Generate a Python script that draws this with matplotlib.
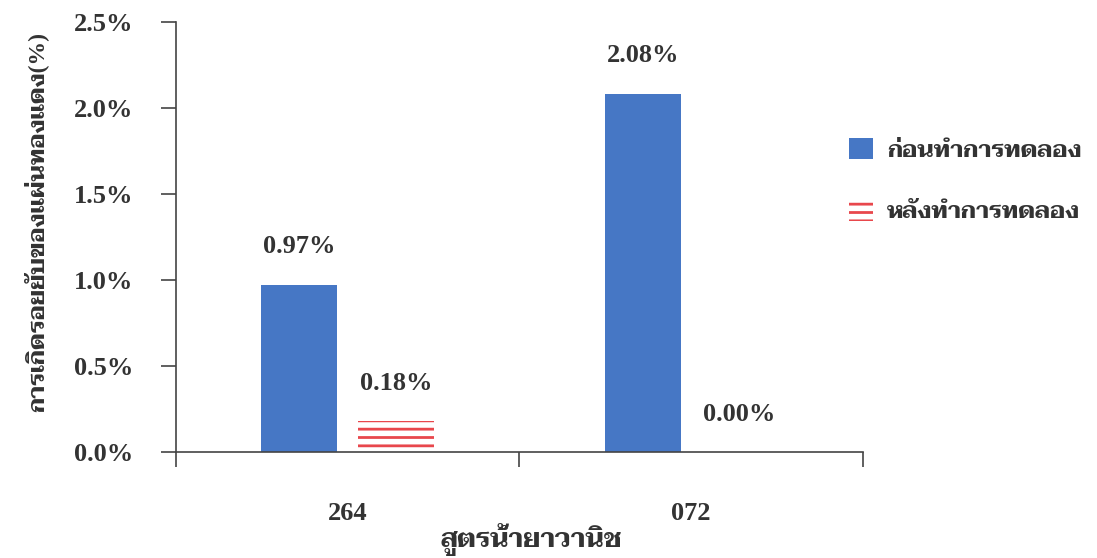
import matplotlib
matplotlib.use("Agg")
import numpy as np
import matplotlib.pyplot as plt

# --- Data ---
formulas = ["264", "072"]
before = [0.97, 2.08]
after = [0.18, 0.00]
series_labels = ["ก่อนทำการทดลอง", "หลังทำการทดลอง"]
y_ticks = [0.0, 0.5, 1.0, 1.5, 2.0, 2.5]
x_title = "สูตรน้ำยาวานิช"
y_title = "การเกิดรอยยับของแผ่นทองแดง(%)"

# --- Style ---
plt.rcParams['font.family'] = ['Liberation Serif', 'Norasi', 'Taviraj', 'DejaVu Sans']
plt.rcParams['font.weight'] = 'bold'
plt.rcParams['axes.labelweight'] = 'bold'
plt.rcParams['hatch.linewidth'] = 2.0
text_col = '#333333'
axis_col = '#444444'
blue = '#4677C5'
red = '#E8474C'

fig = plt.figure(figsize=(10.97, 5.58), dpi=100)
ax = fig.add_axes([0.1604, 0.19, 0.6263, 0.7706])

x = np.arange(len(formulas)) + 0.5
off = 0.141
w = 0.222

b1 = ax.bar(x - off, before, w, color=blue, label=series_labels[0], zorder=2)
b2 = ax.bar(x + off, after, w, facecolor='none', edgecolor=red, linewidth=0,
            hatch='--', label=series_labels[1], zorder=2)

# value labels above the bars
for xi, v in zip(x - off, before):
    ax.annotate(f"{v:.2f}%", (xi, v), xytext=(0, 28), textcoords='offset points',
                ha='center', va='center', fontsize=19, color=text_col, fontweight='bold')
for xi, v in zip(x + off, after):
    ax.annotate(f"{v:.2f}%", (xi, v), xytext=(0, 27), textcoords='offset points',
                ha='center', va='center', fontsize=19, color=text_col, fontweight='bold')

ax.set_xlim(0, len(formulas))
ax.set_ylim(0, 2.5)
ax.set_yticks(y_ticks)
ax.set_yticklabels([f"{t:.1f}%" for t in y_ticks], fontsize=19, color=text_col)
ax.set_xticks(np.arange(len(formulas) + 1))
ax.set_xticklabels([])
ax.set_xticks(x, minor=True)
ax.set_xticklabels(formulas, minor=True, fontsize=19, color=text_col)

ax.tick_params(axis='y', direction='out', length=11, width=1.2, color=axis_col, pad=20)
ax.tick_params(axis='x', which='major', direction='out', length=11, width=1.2, color=axis_col)
ax.tick_params(axis='x', which='minor', length=0, pad=36)

for s in ['top', 'right']:
    ax.spines[s].set_visible(False)
for s in ['left', 'bottom']:
    ax.spines[s].set_color(axis_col)
    ax.spines[s].set_linewidth(1.2)

ax.set_xlabel(x_title, fontsize=19, color=text_col)
ax.xaxis.set_label_coords(0.517, -0.222)
ax.xaxis.label.set_va('baseline')
ax.set_ylabel(y_title, fontsize=17, color=text_col)
ax.yaxis.set_label_coords(-0.186, 0.535)

fig.legend(handles=[b1, b2], labels=series_labels, loc='center left',
           bbox_to_anchor=(0.755, 0.676), frameon=False, fontsize=17,
           handlelength=1.0, handleheight=1.0, handletextpad=0.6,
           labelspacing=1.6, labelcolor=text_col)

fig.savefig("out.png", dpi=100)
